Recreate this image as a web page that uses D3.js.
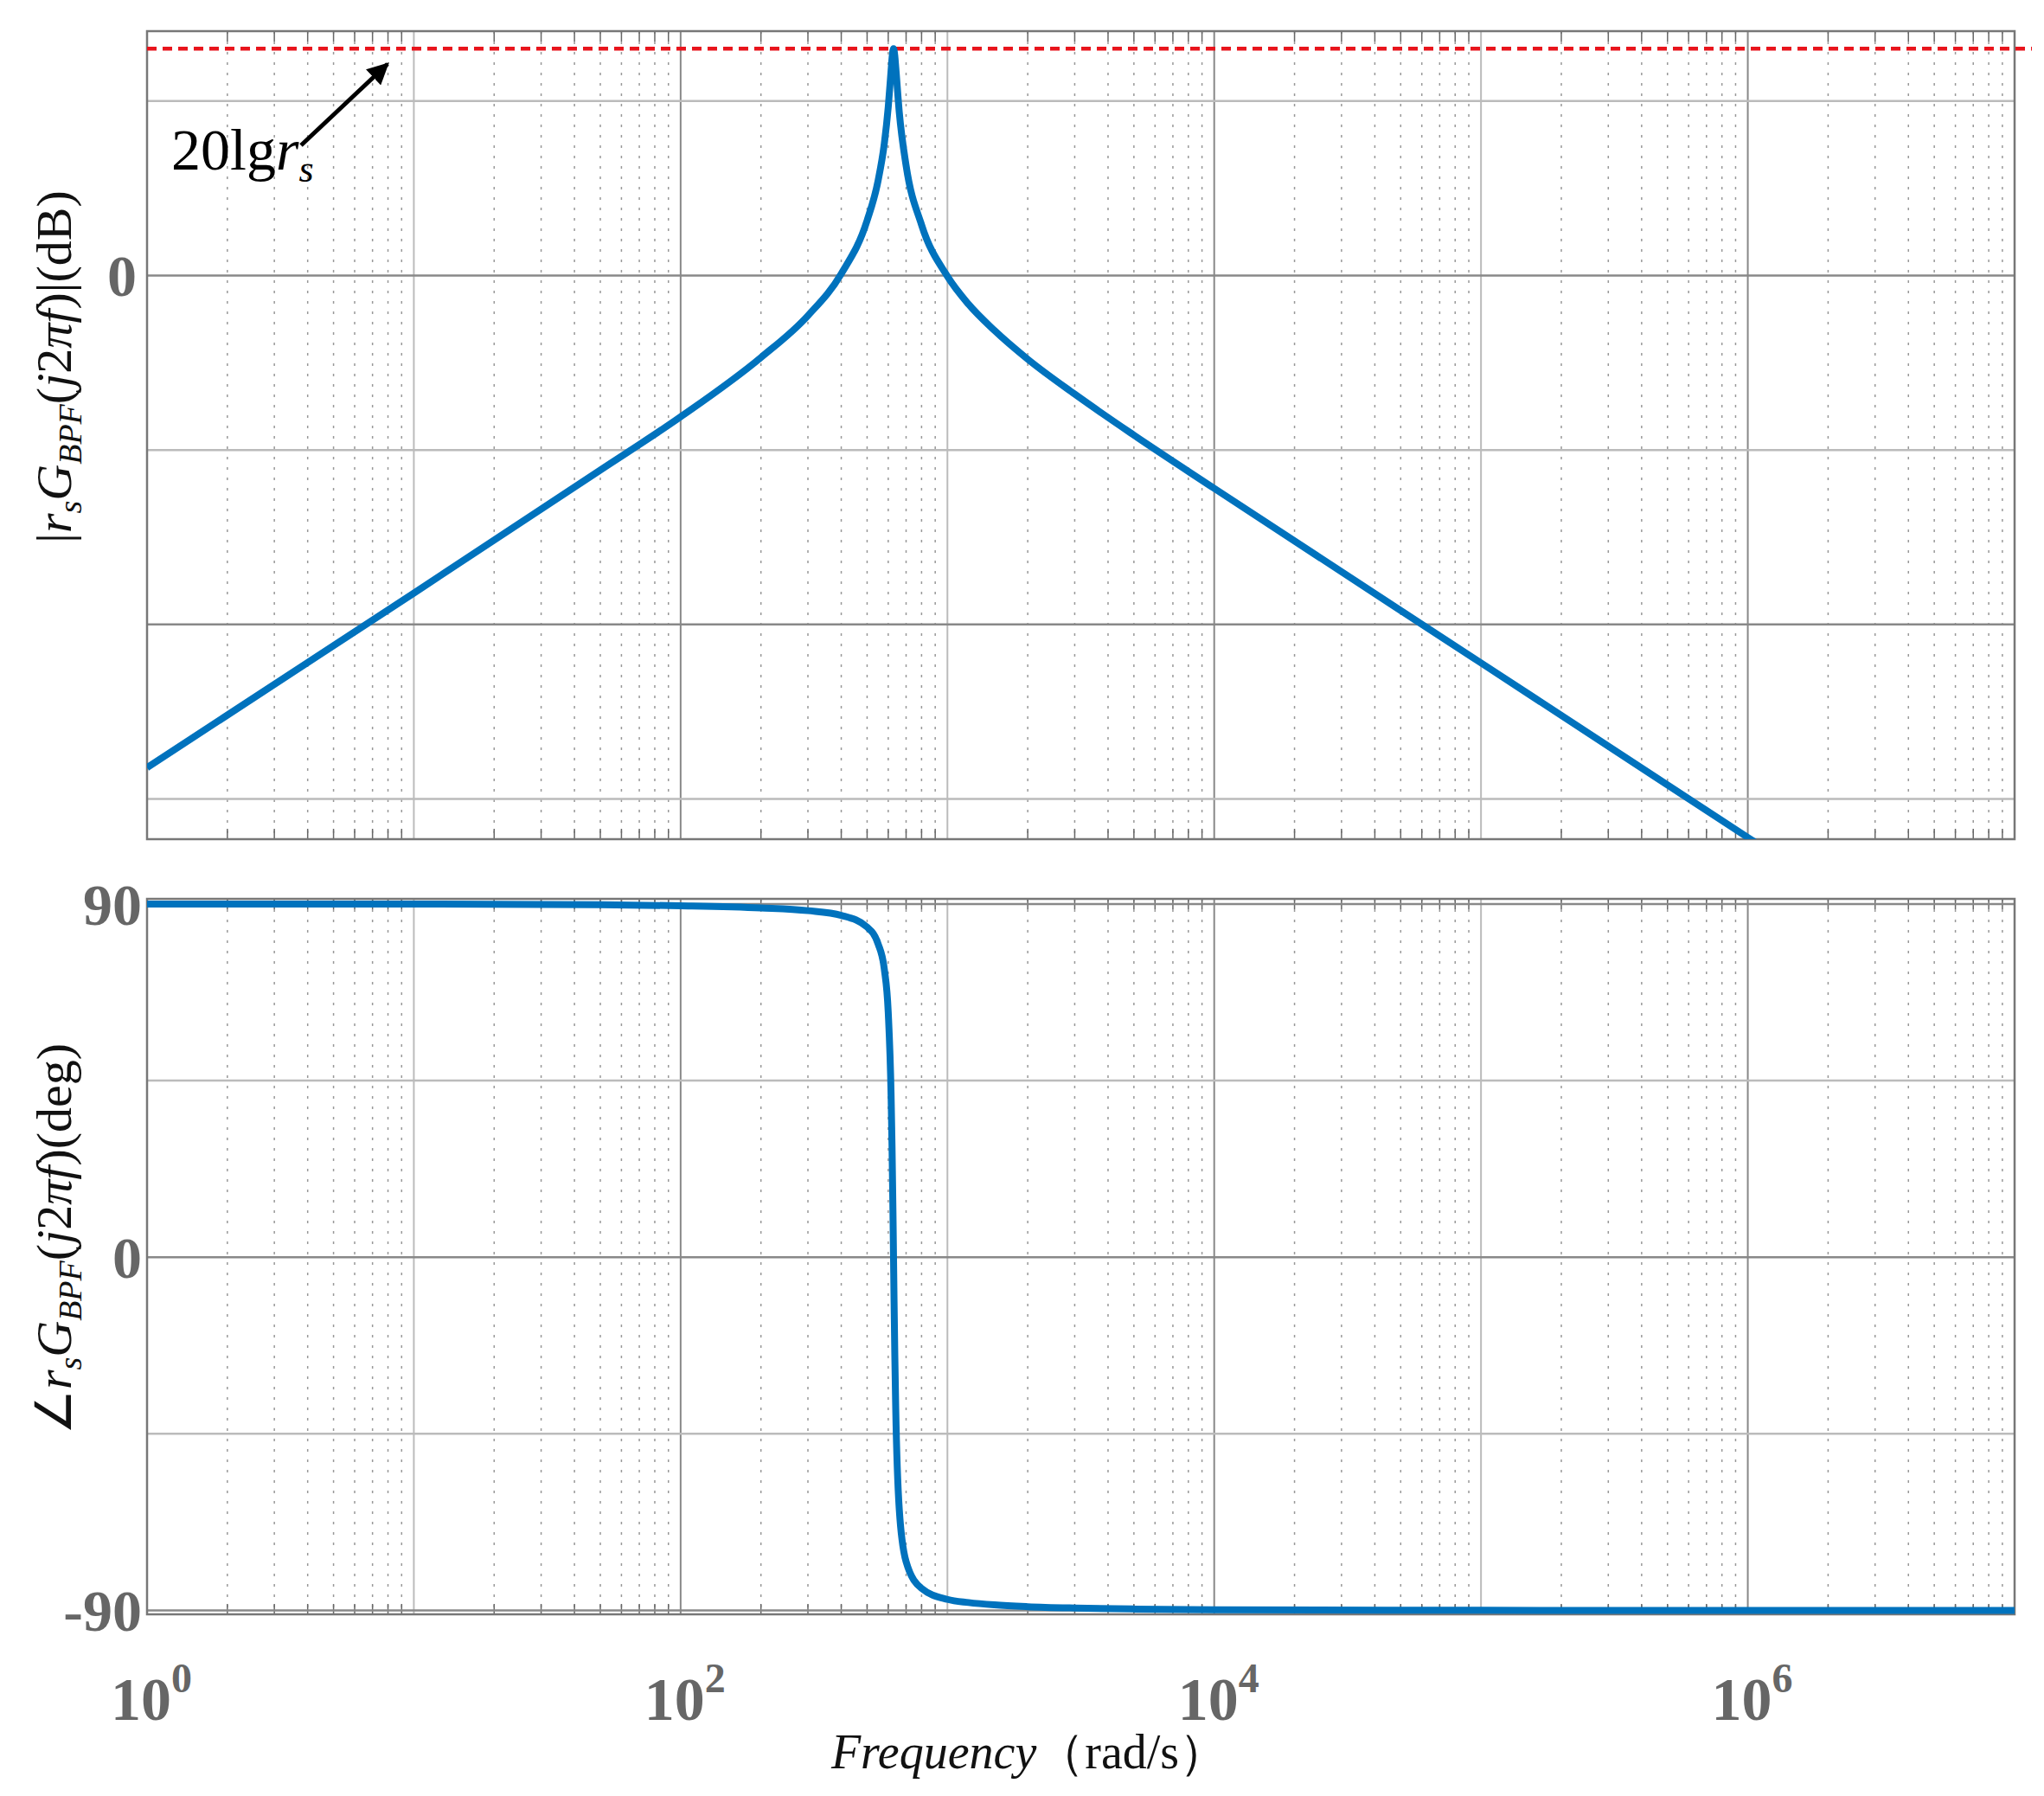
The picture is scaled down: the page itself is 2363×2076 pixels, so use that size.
<!DOCTYPE html>
<html><head><meta charset="utf-8">
<script src="https://cdn.jsdelivr.net/npm/d3@7"></script>
<style>body{margin:0;background:#fff}</style></head>
<body><svg id="c" width="2363" height="2076"></svg>
<script>
const freq = [1,10,50,100,200,300,400,500,550,580,600,615,620,625,628,631,635,640,660,700,800,1000,1200,1500,2000,3000,5000,10000,100000,1000000,10000000];
const magDB = [-56.4,-36.4,-22.3,-16.2,-9.4,-4.6,0.2,6.3,10.9,15.1,19.3,23.5,24.9,25.8,26,25.8,25.15,23.9,18.7,12.6,5.8,-0.1,-3.3,-6.3,-9.6,-13.6,-18.3,-24.4,-44.4,-64.4,-84.4];
const phaseDeg = [90,90,89.8,89.55,89.0,88.3,87.1,84.1,79.8,73.4,62.4,41.2,28.2,11.3,0,-11.3,-24.9,-38.4,-64.3,-77.6,-84.4,-87.2,-88.0,-88.6,-89.05,-89.4,-89.65,-89.83,-89.98,-90,-90];
const refDB = 26;
const magTicks = [-60,-40,-20,0,20];
const phaseTicks = [-90,-45,0,45,90];
const phaseLabels = [-90,0,90];
const decades = [0,2,4,6];

const svg = d3.select("#c");
const L=170,R=2329;
const x = d3.scaleLog().domain([1,1e7]).range([L,R]);
const yM = d3.scaleLinear().domain([-64.6,28]).range([970,36]);
const yP = d3.scaleLinear().domain([-91,91.3]).range([1866,1039]);
const serif = "Liberation Serif, serif";

function panel(y, ticks, clipId){
  const [b,t]=y.range();
  const g = svg.append("g");
  for(let e=0;e<7;e++) for(let m=2;m<=9;m++){
    const xv=x(m*Math.pow(10,e));
    g.append("line").attr("x1",xv).attr("x2",xv).attr("y1",t).attr("y2",b)
     .attr("stroke","#999").attr("stroke-width",1.5).attr("stroke-dasharray","3,9");
    g.append("line").attr("x1",xv).attr("x2",xv).attr("y1",t).attr("y2",t+12).attr("stroke","#666").attr("stroke-width",1.5);
    g.append("line").attr("x1",xv).attr("x2",xv).attr("y1",b).attr("y2",b-12).attr("stroke","#666").attr("stroke-width",1.5);
  }
  for(let e=1;e<7;e++){
    const xv=x(Math.pow(10,e));
    g.append("line").attr("x1",xv).attr("x2",xv).attr("y1",t).attr("y2",b).attr("stroke", e%2==0?"#888":"#bbb").attr("stroke-width",2);
  }
  ticks.forEach(v=>{
    g.append("line").attr("x1",L).attr("x2",R).attr("y1",y(v)).attr("y2",y(v)).attr("stroke", v%40==0||v%90==0?"#888":"#bbb").attr("stroke-width",2.5);
  });
  g.append("rect").attr("x",L).attr("y",t).attr("width",R-L).attr("height",b-t).attr("fill","none").attr("stroke","#777").attr("stroke-width",2.5);
  svg.append("clipPath").attr("id",clipId).append("rect").attr("x",L).attr("y",t).attr("width",R-L).attr("height",b-t);
}
panel(yM, magTicks, "cm");
panel(yP, phaseTicks, "cp");

const pts = freq.map((f,i)=>({f,m:magDB[i],p:phaseDeg[i]}));
svg.append("line").attr("x1",L).attr("x2",R+20).attr("y1",yM(refDB)).attr("y2",yM(refDB))
  .attr("stroke","#e8141c").attr("stroke-width",4.5).attr("stroke-dasharray","11,7");
svg.append("path").datum(pts).attr("clip-path","url(#cm)")
  .attr("d",d3.line().x(d=>x(d.f)).y(d=>yM(d.m)).curve(d3.curveMonotoneX))
  .attr("fill","none").attr("stroke","#0072BD").attr("stroke-width",8);
svg.append("path").datum(pts).attr("clip-path","url(#cp)")
  .attr("d",d3.line().x(d=>x(d.f)).y(d=>yP(d.p)).curve(d3.curveMonotoneX))
  .attr("fill","none").attr("stroke","#0072BD").attr("stroke-width",8);

svg.append("text").attr("x",158).attr("y",yM(0)+24).attr("text-anchor","end")
  .attr("font-family",serif).attr("font-weight","bold").attr("font-size",68).attr("fill","#666").text("0");
phaseLabels.forEach(v=>{
  svg.append("text").attr("x",164).attr("y",yP(v)+24).attr("text-anchor","end")
   .attr("font-family",serif).attr("font-weight","bold").attr("font-size",68).attr("fill","#666").text(v);
});
decades.forEach(e=>{
  const t=svg.append("text").attr("x",x(Math.pow(10,e))-42).attr("y",1988)
   .attr("font-family",serif).attr("font-weight","bold").attr("font-size",70).attr("fill","#666");
  t.append("tspan").text("10");
  t.append("tspan").attr("dy",-32).attr("font-size",48).text(e);
});
const xl=svg.append("text").attr("x",1190).attr("y",2044).attr("text-anchor","middle")
  .attr("font-family",serif).attr("font-size",56).attr("fill","#111");
xl.append("tspan").attr("font-style","italic").text("Frequency");
xl.append("tspan").text("（rad/s）");

function ylab(cx,cy,prefix,suffix){
  const t=svg.append("text").attr("transform",`translate(${cx},${cy}) rotate(-90)`).attr("text-anchor","middle")
   .attr("font-family",serif).attr("font-size",58).attr("fill","#111");
  t.append("tspan").text(prefix);
  t.append("tspan").attr("font-style","italic").text("r");
  t.append("tspan").attr("font-style","italic").attr("font-size",38).attr("dy",12).text("s");
  t.append("tspan").attr("font-style","italic").attr("dy",-12).text("G");
  t.append("tspan").attr("font-style","italic").attr("font-size",38).attr("dy",12).text("BPF");
  t.append("tspan").attr("dy",-12).text("(");
  t.append("tspan").attr("font-style","italic").text("j");
  t.append("tspan").text("2");
  t.append("tspan").attr("font-style","italic").text("πf");
  t.append("tspan").text(suffix);
}
ylab(82,424,"|",")|(dB)");
ylab(82,1432,"∠",")(deg)");

const defs=svg.append("defs");
defs.append("marker").attr("id","ah").attr("viewBox","0 0 10 10").attr("refX",9).attr("refY",5)
  .attr("markerWidth",5).attr("markerHeight",5).attr("orient","auto")
  .append("path").attr("d","M0,0L10,5L0,10z").attr("fill","#000");
svg.append("line").attr("x1",348).attr("y1",168).attr("x2",448).attr("y2",74)
  .attr("stroke","#000").attr("stroke-width",5).attr("marker-end","url(#ah)");
const an=svg.append("text").attr("x",198).attr("y",196).attr("font-family",serif).attr("font-size",68).attr("fill","#000");
an.append("tspan").text("20lg");
an.append("tspan").attr("font-style","italic").text("r");
an.append("tspan").attr("font-style","italic").attr("font-size",44).attr("dy",14).text("s");
</script></body></html>
